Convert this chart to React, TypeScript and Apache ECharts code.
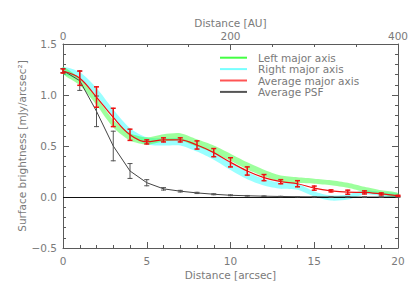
import React, { useEffect, useRef } from "react";
import * as echarts from "echarts";

const xs = [0, 1, 2, 3, 4, 5, 6, 7, 8, 9, 10, 11, 12, 13, 14, 15, 16, 17, 18, 19, 20];

// Average major axis (red) with errors
const avgMajor = [1.235, 1.165, 0.98, 0.78, 0.61, 0.54, 0.56, 0.56, 0.51, 0.435, 0.34, 0.255, 0.19, 0.15, 0.13, 0.087, 0.06, 0.047, 0.045, 0.03, 0.012];
const avgMajorErr = [0.02, 0.07, 0.1, 0.09, 0.055, 0.02, 0.02, 0.02, 0.04, 0.04, 0.045, 0.04, 0.03, 0.02, 0.03, 0.02, 0.01, 0.02, 0.015, 0.01, 0.005];

// Left major axis band (green)
const leftMajor = [1.24, 1.13, 0.94, 0.72, 0.59, 0.55, 0.58, 0.59, 0.53, 0.47, 0.39, 0.305, 0.235, 0.18, 0.165, 0.155, 0.14, 0.115, 0.075, 0.045, 0.02];
const leftHalfWidth = [0.035, 0.035, 0.038, 0.038, 0.035, 0.035, 0.035, 0.035, 0.035, 0.035, 0.035, 0.035, 0.032, 0.03, 0.028, 0.025, 0.025, 0.025, 0.025, 0.02, 0.02];

// Right major axis band (cyan)
const rightMajor = [1.24, 1.19, 1.03, 0.82, 0.64, 0.55, 0.54, 0.54, 0.48, 0.4, 0.3, 0.21, 0.145, 0.11, 0.1, 0.03, -0.01, 0.0, 0.045, 0.03, 0.015];
const rightHalfWidth = [0.035, 0.035, 0.038, 0.038, 0.035, 0.035, 0.035, 0.035, 0.035, 0.035, 0.035, 0.035, 0.032, 0.03, 0.03, 0.025, 0.025, 0.025, 0.02, 0.02, 0.02];

// Average PSF (black) with errors
const avgPsf = [1.24, 1.14, 0.84, 0.5, 0.255, 0.14, 0.08, 0.057, 0.04, 0.027, 0.017, 0.012, 0.008, 0.005, 0.003, 0.002, 0.001, 0.001, 0.0, 0.0, 0.0];
const avgPsfErr = [0.02, 0.095, 0.15, 0.145, 0.073, 0.03, 0.012, 0.008, 0.006, 0.005, 0.004, 0.003, 0.002, 0.002, 0.001, 0.001, 0.001, 0.001, 0.0, 0.0, 0.0];

const legendNames = ["Left major axis", "Right major axis", "Average major axis", "Average PSF"];
const FONT = "DejaVu Sans";
const TXT = "#7a7a7a";
const AX = "#5a5a5a";

function bandSeries(name: string, center: number[], hw: number[], fill: string) {
  return {
    name,
    type: "custom",
    data: [[0, 0]],
    encode: { x: 0, y: 1 },
    z: 1,
    renderItem: (params: any, api: any) => {
      const upper = xs.map((x, i) => api.coord([x, center[i] + hw[i]]));
      const lower = xs.map((x, i) => api.coord([x, center[i] - hw[i]])).reverse();
      return {
        type: "polygon",
        shape: { points: upper.concat(lower), smooth: 0.25 },
        style: { fill, stroke: null },
      };
    },
  };
}

function errSeries(name: string, vals: number[], errs: number[], color: string, lw: number, cap: number) {
  return {
    name,
    type: "custom",
    data: xs.map((x, i) => [x, vals[i], errs[i]]),
    encode: { x: 0, y: 1 },
    z: 5,
    renderItem: (params: any, api: any) => {
      const x = api.value(0);
      const y = api.value(1);
      const e = api.value(2);
      const t = api.coord([x, y + e]);
      const b = api.coord([x, y - e]);
      const st = { stroke: color, lineWidth: lw };
      return {
        type: "group",
        children: [
          { type: "line", shape: { x1: t[0], y1: t[1] - 0.5, x2: b[0], y2: b[1] + 0.5 }, style: st },
          { type: "line", shape: { x1: t[0] - cap, y1: t[1], x2: t[0] + cap, y2: t[1] }, style: st },
          { type: "line", shape: { x1: b[0] - cap, y1: b[1], x2: b[0] + cap, y2: b[1] }, style: st },
        ],
      };
    },
  };
}

export default function App() {
  const ref = useRef<HTMLDivElement>(null);
  useEffect(() => {
    if (!ref.current) return;
    const chart = echarts.init(ref.current, null, { renderer: "svg" });
    const axisCommon = {
      axisLine: { show: true, onZero: false, lineStyle: { color: AX, width: 1 } },
      axisTick: { show: true, inside: true, length: 6, lineStyle: { color: AX } },
      minorTick: { show: true, length: 3, lineStyle: { color: AX } },
      splitLine: { show: false },
      axisLabel: { color: TXT, fontFamily: FONT, fontSize: 10.5 },
      nameTextStyle: { color: TXT, fontFamily: FONT, fontSize: 10.5 },
      nameMoveOverlap: false,
    };
    const fmtY = (v: number) => (v < 0 ? "\u2212" + Math.abs(v).toFixed(1) : v.toFixed(1));
    chart.setOption({
      animation: false,
      backgroundColor: "#ffffff",
      grid: { left: 63, right: 21, top: 44, bottom: 45 },
      legend: {
        orient: "vertical",
        left: 220,
        top: 52,
        padding: 0,
        itemWidth: 27,
        itemHeight: 2,
        itemGap: 0,
        icon: "rect",
        textStyle: { color: TXT, fontFamily: FONT, fontSize: 10.5, lineHeight: 11.4, padding: [0, 0, 0, 6] },
        data: [
          { name: legendNames[0], itemStyle: { color: "#44ff44" } },
          { name: legendNames[1], itemStyle: { color: "#77ffff" } },
          { name: legendNames[2], itemStyle: { color: "#ff5555" } },
          { name: legendNames[3], itemStyle: { color: "#555555" } },
        ],
      },
      xAxis: [
        {
          ...axisCommon,
          type: "value",
          position: "bottom",
          min: 0,
          max: 20,
          interval: 5,
          minorTick: { ...axisCommon.minorTick, splitNumber: 5 },
          axisLabel: { ...axisCommon.axisLabel, margin: 7 },
          name: "Distance [arcsec]",
          nameLocation: "middle",
          nameGap: 21,
        },
        {
          ...axisCommon,
          type: "value",
          position: "top",
          min: 0,
          max: 400,
          interval: 200,
          minorTick: { ...axisCommon.minorTick, splitNumber: 4 },
          axisLabel: { ...axisCommon.axisLabel, margin: 3 },
          name: "Distance [AU]",
          nameLocation: "middle",
          nameGap: 16,
        },
      ],
      yAxis: [
        {
          ...axisCommon,
          type: "value",
          position: "left",
          min: -0.5,
          max: 1.5,
          interval: 0.5,
          minorTick: { ...axisCommon.minorTick, splitNumber: 5 },
          axisLabel: { ...axisCommon.axisLabel, margin: 6, formatter: fmtY },
          name: "Surface brightness [mJy/arcsec\u00b2]",
          nameLocation: "middle",
          nameGap: 36,
        },
        {
          ...axisCommon,
          type: "value",
          position: "right",
          min: -0.5,
          max: 1.5,
          interval: 0.5,
          minorTick: { ...axisCommon.minorTick, splitNumber: 5 },
          axisLabel: { show: false },
        },
      ],
      series: [
        bandSeries(legendNames[1], rightMajor, rightHalfWidth, "rgba(70,255,255,0.55)"),
        bandSeries(legendNames[0], leftMajor, leftHalfWidth, "rgba(60,255,60,0.5)"),
        {
          name: legendNames[3],
          type: "line",
          data: xs.map((x, i) => [x, avgPsf[i]]),
          symbol: "none",
          lineStyle: { color: "#444444", width: 1 },
          itemStyle: { color: "#555555" },
          z: 3,
          markLine: {
            silent: true,
            symbol: "none",
            label: { show: false },
            lineStyle: { color: "#111111", width: 1, type: "solid" },
            data: [{ yAxis: 0 }],
          },
        },
        errSeries("psfErr", avgPsf, avgPsfErr, "#555555", 1, 2.5),
        {
          name: legendNames[2],
          type: "line",
          data: xs.map((x, i) => [x, avgMajor[i]]),
          smooth: 0.35,
          symbol: "none",
          lineStyle: { color: "#ee1111", width: 1.2 },
          itemStyle: { color: "#ff5555" },
          z: 4,
        },
        errSeries("majErr", avgMajor, avgMajorErr, "#ee1111", 1.5, 2.5),
      ],
    });
    return () => chart.dispose();
  }, []);
  return <div ref={ref} style={{ position: "fixed", left: 0, top: 0, width: 419, height: 293 }} />;
}
